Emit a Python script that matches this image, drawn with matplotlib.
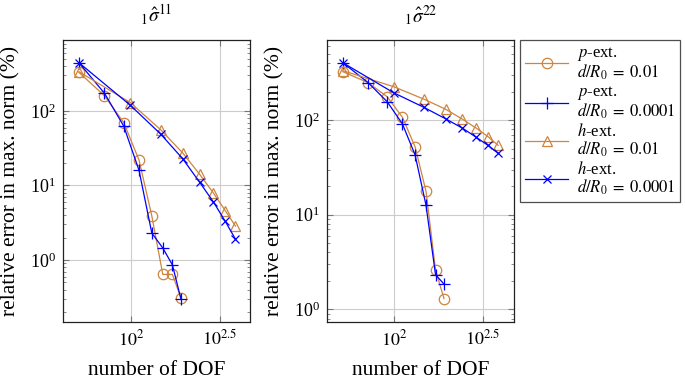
import numpy as np
import matplotlib
matplotlib.use("Agg")
import matplotlib.pyplot as plt
from matplotlib.ticker import FixedLocator, FixedFormatter, LogLocator, NullFormatter

plt.rcParams['font.family'] = 'serif'
plt.rcParams['font.serif'] = ['Liberation Serif', 'DejaVu Serif']
plt.rcParams['mathtext.fontset'] = 'stix'

# degrees of freedom
dof_p = [51, 71, 91, 111, 131, 151, 171, 191]
dof_h = [51, 99, 147, 195, 243, 291, 339, 387]

# sigma 11 errors (%)
s11_p_001 = [330, 160, 70, 22, 3.9, 0.64, 0.64, 0.31]
s11_p_00001 = [445, 173, 63, 16, 2.3, 1.45, 0.86, 0.30]
s11_h_001 = [337, 130, 56, 27.5, 14.2, 7.9, 4.6, 2.85]
s11_h_00001 = [445, 120, 49, 23, 11.1, 6.0, 3.3, 1.9]

# sigma 22 errors (%)
s22_p_001 = [324, 248, 176, 107, 52, 17.7, 2.6, 1.30]
s22_p_00001 = [403, 248, 156, 91, 42.7, 12.6, 2.32, 1.85]
s22_h_001 = [332, 225, 166, 130, 102, 82, 66.7, 54]
s22_h_00001 = [403, 194, 136, 103, 82, 65.6, 54, 44.5]

titles = [r"${}_{1}\hat{\sigma}^{11}$", r"${}_{1}\hat{\sigma}^{22}$"]
labels = ["$p$-ext.\n$d/R_0\\;=\\;0.01$", "$p$-ext.\n$d/R_0\\;=\\;0.0001$",
          "$h$-ext.\n$d/R_0\\;=\\;0.01$", "$h$-ext.\n$d/R_0\\;=\\;0.0001$"]

orange = '#CD853F'
blue = '#0000FF'

fig = plt.figure(figsize=(6.85, 3.79), dpi=100)
ax1 = fig.add_axes([63 / 685, 57 / 379, 187 / 685, 282 / 379])
ax2 = fig.add_axes([327 / 685, 57 / 379, 187 / 685, 282 / 379])

panels = [
    (ax1, s11_p_001, s11_p_00001, s11_h_001, s11_h_00001, (0.147, 898), (41.5, 467)),
    (ax2, s22_p_001, s22_p_00001, s22_h_001, s22_h_00001, (0.735, 700), (41.5, 476)),
]

for i, (ax, p1, p2, h1, h2, ylim, xlim) in enumerate(panels):
    ax.plot(dof_p, p1, color=orange, lw=0.9, marker='o', ms=7.5, mfc='none', mew=0.9)
    ax.plot(dof_p, p2, color=blue, lw=0.9, marker='+', ms=8, mew=0.9)
    ax.plot(dof_h, h1, color=orange, lw=0.9, marker='^', ms=7, mfc='none', mew=0.9)
    ax.plot(dof_h, h2, color=blue, lw=0.9, marker='x', ms=6, mew=0.9)

    ax.set_xscale('log')
    ax.set_yscale('log')
    ax.set_xlim(*xlim)
    ax.set_ylim(*ylim)

    ax.xaxis.set_major_locator(FixedLocator([100, 10 ** 2.5]))
    ax.xaxis.set_major_formatter(FixedFormatter([r"$10^{2}$", r"$10^{2.5}$"]))
    ax.xaxis.set_minor_locator(FixedLocator([]))
    ax.yaxis.set_major_locator(LogLocator(base=10, numticks=10))
    ax.yaxis.set_minor_locator(LogLocator(base=10, subs=np.arange(2, 10), numticks=20))
    ax.yaxis.set_minor_formatter(NullFormatter())

    ax.grid(True, which='major', color='#cccccc', lw=0.8)
    ax.set_axisbelow(True)
    ax.tick_params(which='both', direction='in', top=True, right=True, color='#777777',
                   labelsize=13)
    ax.tick_params(which='major', length=4, pad=5)
    ax.tick_params(which='minor', length=2.5)
    for sp in ax.spines.values():
        sp.set_color('#222222')
        sp.set_linewidth(0.9)

    ax.set_title(titles[i], fontsize=14, pad=13)
    ax.set_xlabel("number of DOF", fontsize=15.5)
    ax.xaxis.set_label_coords(0.5, -0.14)
    ax.set_ylabel("relative error in max. norm (%)", fontsize=15.5)
    ax.yaxis.set_label_coords(-0.23, 0.5)

leg = fig.legend(ax1.lines, labels, loc='upper left', bbox_to_anchor=(520 / 685, 339 / 379),
                 borderaxespad=0, fontsize=12, frameon=True, fancybox=False,
                 edgecolor='#222222', handlelength=2.6, labelspacing=0.15,
                 borderpad=0.3, handletextpad=0.5)
leg.get_frame().set_linewidth(0.9)
for t in leg.get_texts():
    t.set_linespacing(0.95)

fig.savefig("out.png", dpi=100)
